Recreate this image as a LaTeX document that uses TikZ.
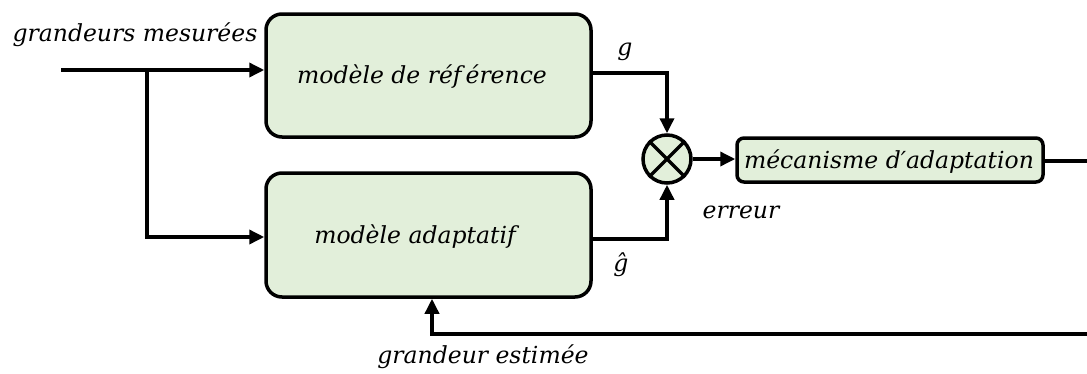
\documentclass[tikz,border=0pt]{standalone}
\usepackage{fontspec}
\setmainfont{DejaVu Serif}
\usetikzlibrary{arrows.meta}
\definecolor{boxfill}{RGB}{226,239,218}
\begin{document}
\begin{tikzpicture}[x=1pt,y=-1pt,
  txt/.style={font=\fontsize{23.5}{28}\selectfont\itshape, inner sep=0pt},
  block/.style={draw, line width=3.5pt, fill=boxfill, rounded corners=16pt, inner sep=0pt},
  wire/.style={line width=3.5pt},
  arr/.style={wire, -{Triangle[length=15pt,width=14pt]}}]
\useasboundingbox (0,0) rectangle (1087,373);

% blocks
\node[block, minimum width=325pt, minimum height=123pt] (ref) at (428.5,75.5) {};
\node[txt] (reftxt) at (422,77) {modèle de réf\,érence};
\node[block, minimum width=325pt, minimum height=124pt] (adp) at (428.5,235) {};
\node[txt] (adptxt) at (415,237) {modèle adaptatif};
\node[draw, circle, line width=3.5pt, fill=boxfill, minimum size=48pt, inner sep=0pt] (sum) at (667,159) {};
\draw[wire] (sum.45) -- (sum.225) (sum.135) -- (sum.-45);
\node[block, rounded corners=7pt, minimum width=306pt, minimum height=44pt] (mec) at (890,160) {};
\node[txt] (mectxt) at (889,162) {mécanisme d\symbol{"2032}adaptation};

% free ends
\coordinate (in) at (61,70);
\coordinate (split) at (147,70);
\coordinate (out) at (1087,161);
\coordinate (fb) at (1087,334);

% connectors
\draw[arr] (in) -- (in -| ref.west);
\draw[arr] (split) |- (adp.west |- 0,237);
\draw[arr] (ref.east |- 0,73) -| (sum.north);
\draw[arr] (adp.east |- 0,239) -| (sum.south);
\draw[arr] (sum.east) -- (sum.east -| mec.west);
\draw[wire] (mec.east |- out) -- (out);
\draw[arr] (fb) -| (adp.south -| 432,0);

% labels
\node[txt] (lin) at (135,35) {grandeurs mesurées};
\node[txt] (lg) at (625,52) {g};
\node[txt] (lgh) at (621,265) {ĝ};
\node[txt] (lerr) at (741,212) {erreur};
\node[txt] (lest) at (483,357) {grandeur estimée};
\end{tikzpicture}
\end{document}
